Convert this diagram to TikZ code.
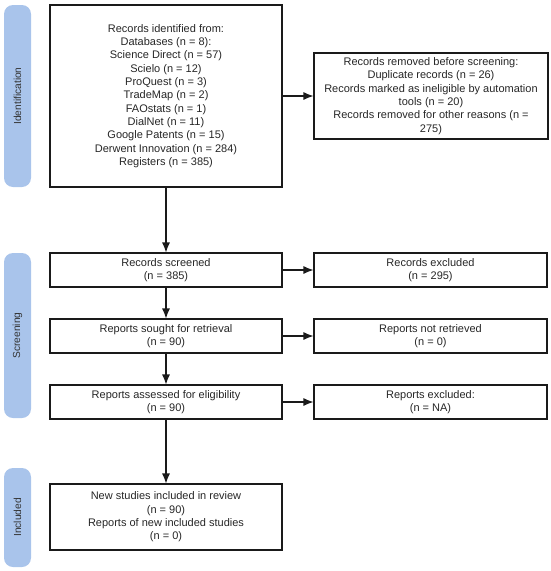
\documentclass[tikz,border=0pt]{standalone}
\usepackage{fontspec}
\setmainfont{Liberation Sans}
\usetikzlibrary{arrows.meta}
\definecolor{barblue}{HTML}{A9C4EB}
\definecolor{bartext}{HTML}{333333}
\definecolor{linecol}{HTML}{1A1A1A}
\tikzset{
  box/.style={draw=linecol, line width=1.1pt, rectangle, align=center, inner sep=0pt,
    font=\fontsize{11}{13.3}\selectfont, text=black!85},
  sidebar/.style={fill=barblue, draw=none, rounded corners=9pt, inner sep=0pt,
    minimum width=27pt, font=\fontsize{10.2}{12}\selectfont, text=bartext},
  arr/.style={draw=linecol, line width=1.1pt, -{Latex[length=10pt,width=8pt]}}
}
\begin{document}
\begin{tikzpicture}[x=1pt,y=-1pt]
\useasboundingbox (0,0) rectangle (550,571);
% side bars
\node[sidebar, minimum height=182pt] (bid) at (17.5,96) {\rotatebox{90}{Identification}};
\node[sidebar, minimum height=165pt] (bsc) at (17.5,335.5) {\rotatebox{90}{Screening}};
\node[sidebar, minimum height=99pt] (bin) at (17.5,517.5) {\rotatebox{90}{Included}};
% left column
\node[box, minimum width=232pt, minimum height=182pt] (ident) at (166,96)
 {Records identified from:\\Databases (n = 8):\\Science Direct (n = 57)\\Scielo (n = 12)\\ProQuest (n = 3)\\TradeMap (n = 2)\\FAOstats (n = 1)\\DialNet (n = 11)\\Google Patents (n = 15)\\Derwent Innovation (n = 284)\\Registers (n = 385)};
\node[box, minimum width=232pt, minimum height=34pt] (scr) at (166,270) {Records screened\\(n = 385)};
\node[box, minimum width=232pt, minimum height=34pt] (sought) at (166,336) {Reports sought for retrieval\\(n = 90)};
\node[box, minimum width=232pt, minimum height=34pt] (assess) at (166,402) {Reports assessed for eligibility\\(n = 90)};
\node[box, minimum width=232pt, minimum height=66pt] (incl) at (166,517) {New studies included in review\\(n = 90)\\Reports of new included studies\\(n = 0)};
% right column
\node[box, minimum width=234pt, minimum height=86pt] (removed) at (431,96)
 {Records removed before screening:\\Duplicate records (n = 26)\\Records marked as ineligible by automation\\tools (n = 20)\\Records removed for other reasons (n =\\275)};
\node[box, minimum width=233pt, minimum height=34pt] (excl) at (430.5,270) {Records excluded\\(n = 295)};
\node[box, minimum width=233pt, minimum height=34pt] (notret) at (430.5,336) {Reports not retrieved\\(n = 0)};
\node[box, minimum width=233pt, minimum height=34pt] (repexcl) at (430.5,402) {Reports excluded:\\(n = NA)};
% connectors
\draw[arr] (ident) -- (scr);
\draw[arr] (scr) -- (sought);
\draw[arr] (sought) -- (assess);
\draw[arr] (assess) -- (incl);
\draw[arr] (ident) -- (removed);
\draw[arr] (scr) -- (excl);
\draw[arr] (sought) -- (notret);
\draw[arr] (assess) -- (repexcl);
\end{tikzpicture}
\end{document}
